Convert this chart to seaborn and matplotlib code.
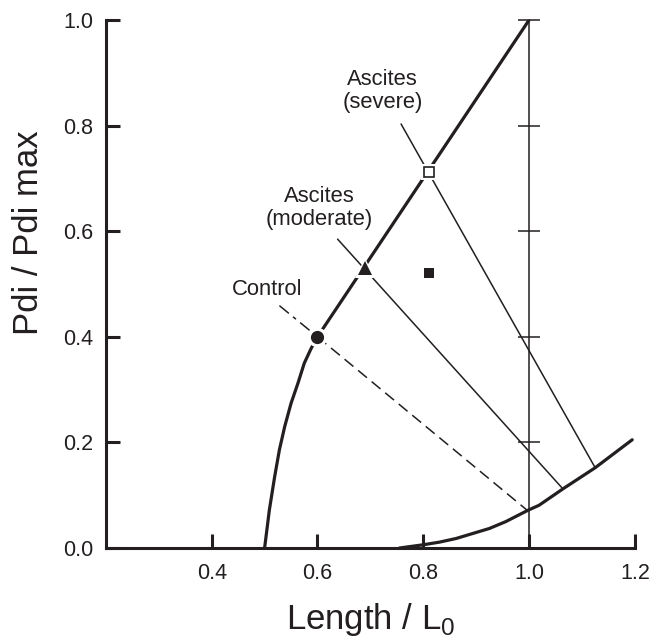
import numpy as np
import pandas as pd
import matplotlib
matplotlib.use("Agg")
import matplotlib.pyplot as plt
import seaborn as sns

# active length-tension curve
active_len = [0.5, 0.509, 0.519, 0.528, 0.538, 0.55, 0.563, 0.575, 0.588, 0.6, 1.0]
active_force = [0.0, 0.072, 0.135, 0.186, 0.23, 0.274, 0.312, 0.35, 0.378, 0.4, 1.0]

# passive curve
passive_len = [0.755, 0.799, 0.83, 0.862, 0.925, 0.956, 0.997, 1.019, 1.064, 1.125, 1.195]
passive_force = [0.0, 0.006, 0.011, 0.018, 0.037, 0.05, 0.071, 0.081, 0.112, 0.152, 0.205]

# operating points
groups = ["Control", "Ascites\n(moderate)", "Ascites\n(severe)"]
op_len = [0.6, 0.69, 0.81]
op_force = [0.4, 0.53, 0.712]
end_len = [0.997, 1.064, 1.125]
end_force = [0.071, 0.112, 0.152]
start_len = [0.528, 0.638, 0.758]
start_force = [0.459, 0.585, 0.803]
label_pos = [(0.504, 0.489), (0.604, 0.644), (0.723, 0.865)]

extra_len = [0.81]
extra_force = [0.52]

xticks = [0.4, 0.6, 0.8, 1.0, 1.2]
yticks = [0.0, 0.2, 0.4, 0.6, 0.8, 1.0]

sns.set_theme(style="ticks")
plt.rcParams["font.family"] = ["Liberation Sans", "DejaVu Sans"]
plt.rcParams["mathtext.fontset"] = "custom"
plt.rcParams["mathtext.rm"] = "Liberation Sans"

fig = plt.figure(figsize=(6.62, 6.39), dpi=100)
ax = fig.add_axes([0.160, 0.1424, 0.799, 0.8263])
ink = "#231f20"

sns.lineplot(x=active_len, y=active_force, ax=ax, color=ink, lw=2.3, sort=False, estimator=None)
sns.lineplot(x=passive_len, y=passive_force, ax=ax, color=ink, lw=2.3, sort=False, estimator=None)

# vertical reference line at L0 with cross ticks
ax.plot([1.0, 1.0], [0.0, 1.0], color=ink, lw=1.1, clip_on=False)
ax.plot([1.0] * 5, yticks[1:], ls="none", marker="_", ms=16, mew=1.1, color=ink, clip_on=False)

# load lines
ax.plot([start_len[0], op_len[0]], [start_force[0], op_force[0]], color=ink, lw=1.1,
        dashes=[8, 3.5, 2.5, 3.5])
ax.plot([op_len[0], end_len[0]], [op_force[0], end_force[0]], color=ink, lw=1.1, dashes=[7.5, 4])
for i in (1, 2):
    ax.plot([start_len[i], end_len[i]], [start_force[i], end_force[i]], color=ink, lw=1.1)

# white halos then markers
ax.plot(op_len[0], op_force[0], "o", ms=14, color="white", mew=0)
ax.plot(op_len[1], op_force[1], "^", ms=15, color="white", mew=0)
ax.plot(op_len[2], op_force[2], "s", ms=12, color="white", mew=0)
ax.plot(op_len[0], op_force[0], "o", ms=9.5, color=ink, mew=0)
ax.plot(op_len[1], op_force[1], "^", ms=10, color=ink, mew=0)
ax.plot(op_len[2], op_force[2], "s", ms=7.5, mfc="white", mec=ink, mew=1.2)
sns.scatterplot(x=extra_len, y=extra_force, ax=ax, marker="s", s=55, color=ink, linewidth=0)

for name, (tx, ty) in zip(groups, label_pos):
    ax.text(tx, ty, name, ha="center", va="center", fontsize=15.8, color=ink, linespacing=1.15)

ax.set_xlim(0.2, 1.2)
ax.set_ylim(0.0, 1.0)
ax.set_xticks(xticks)
ax.set_xticklabels([f"{v:.1f}" for v in xticks])
ax.set_yticks(yticks)
ax.set_yticklabels([f"{v:.1f}" for v in yticks])
ax.tick_params(direction="in", length=10, width=2.2, labelsize=15.5, color=ink, labelcolor=ink)
ax.tick_params(axis="x", pad=11)
ax.tick_params(axis="y", pad=9)
sns.despine(ax=ax)
for s in ("left", "bottom"):
    ax.spines[s].set_linewidth(2.2)
    ax.spines[s].set_color(ink)

ax.set_xlabel(r"Length / L$_\mathregular{0}$", fontsize=25, color=ink, va="center")
ax.set_ylabel("Pdi / Pdi max", fontsize=25, color=ink, va="center")
ax.xaxis.set_label_coords(0.5, -0.136)
ax.yaxis.set_label_coords(-0.1456, 0.598)

fig.savefig("out.png", dpi=100)
